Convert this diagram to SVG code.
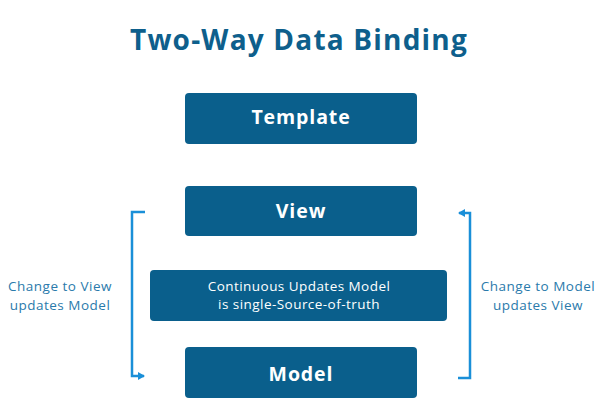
<svg xmlns="http://www.w3.org/2000/svg" width="600" height="400" viewBox="0 0 600 400">
<style>
.box{fill:#0a5f8c;}
.lbl{font-family:"Open Sans","Liberation Sans",sans-serif;font-weight:700;font-size:19.5px;letter-spacing:0.9px;fill:#ffffff;text-anchor:middle;}
.sub{font-family:"Open Sans","Liberation Sans",sans-serif;font-size:13.5px;letter-spacing:0.45px;fill:#ffffff;text-anchor:middle;}
.side{font-family:"Open Sans","Liberation Sans",sans-serif;font-size:13.5px;letter-spacing:0.5px;fill:#2a7aab;text-anchor:middle;}
.title{font-family:"Open Sans","Liberation Sans",sans-serif;font-weight:700;font-size:28px;letter-spacing:1.2px;fill:#0e5f8c;text-anchor:middle;}
.br{fill:none;stroke:#1a8fd8;stroke-width:2.5;}
</style>
<defs>
<marker id="ah" markerWidth="8" markerHeight="8" refX="6" refY="4" orient="auto" markerUnits="userSpaceOnUse">
<path d="M0,0 L7,4 L0,8 Z" fill="#1a8fd8"/>
</marker>
</defs>
<rect width="600" height="400" fill="#ffffff"/>
<text class="title" x="299" y="50">Two-Way Data Binding</text>
<g id="template"><rect class="box" x="185" y="93" width="232" height="51" rx="4"/><text class="lbl" x="301" y="124">Template</text></g>
<g id="view"><rect class="box" x="185" y="186" width="232" height="50" rx="4"/><text class="lbl" x="301" y="218">View</text></g>
<g id="continuous"><rect class="box" x="150" y="270" width="297" height="51" rx="4"/><text class="sub" x="299" y="291">Continuous Updates Model</text><text class="sub" x="299" y="309">is single-Source-of-truth</text></g>
<g id="model"><rect class="box" x="185" y="347" width="232" height="51" rx="4"/><text class="lbl" x="301" y="381">Model</text></g>
<g id="connectors">
<path class="br" d="M145,212 H132 V376 H144" marker-end="url(#ah)"/>
<path class="br" d="M458,378 H470 V213 H459" marker-end="url(#ah)"/>
</g>
<g id="side-labels">
<text class="side" x="60" y="291">Change to View</text>
<text class="side" x="60" y="310">updates Model</text>
<text class="side" x="538" y="291">Change to Model</text>
<text class="side" x="538" y="310">updates View</text>
</g>
</svg>
